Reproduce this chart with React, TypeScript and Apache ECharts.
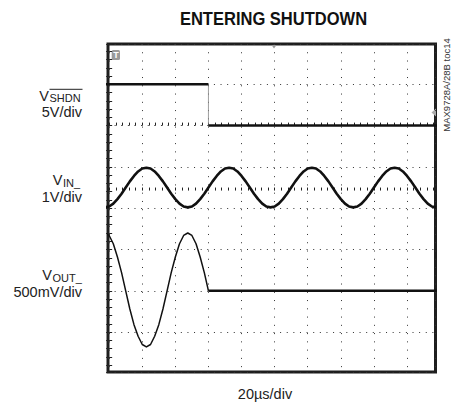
import React, { useEffect, useRef } from 'react';
import * as echarts from 'echarts';

// ---- texts ----
const TITLE = 'ENTERING SHUTDOWN';
const TIME_LABEL = '20µs/div';
const CHART_ID = 'MAX9728A/28B toc14';

// ---- sampled traces (time in µs from the first graticule line) ----
const SAMPLE_START_US = -2.5;
const SAMPLE_STEP_US = 2.5;

// V_IN_ (1V/div), samples every 2.5µs from -2.5µs
const VIN_VOLTS = [
  -0.48, -0.46, -0.39, -0.28, -0.15, 0.0, 0.15, 0.28, 0.39, 0.46,
  0.48, 0.46, 0.39, 0.28, 0.15, 0.0, -0.15, -0.28, -0.39, -0.46,
  -0.48, -0.46, -0.39, -0.28, -0.15, 0.0, 0.15, 0.28, 0.39, 0.46,
  0.48, 0.46, 0.39, 0.28, 0.15, 0.0, -0.15, -0.28, -0.39, -0.46,
  -0.48, -0.46, -0.39, -0.28, -0.15, 0.0, 0.15, 0.28, 0.39, 0.46,
  0.48, 0.46, 0.39, 0.28, 0.15, 0.0, -0.15, -0.28, -0.39, -0.46,
  -0.48, -0.46, -0.39, -0.28, -0.15, 0.0, 0.15, 0.28, 0.39, 0.46,
  0.48, 0.46, 0.39, 0.28, 0.15, 0.0, -0.15, -0.28, -0.39, -0.46,
  -0.48,
];

// V_OUT_ (500mV/div), samples every 2.5µs from -2.5µs until shutdown
const VOUT_VOLTS = [
  0.7, 0.67, 0.57, 0.41, 0.22, 0.0, -0.22, -0.41, -0.55, -0.65,
  -0.68, -0.65, -0.55, -0.41, -0.22, 0.0, 0.22, 0.41, 0.57, 0.67,
  0.7, 0.67, 0.57, 0.41, 0.22, 0.0,
];
const VOUT_SETTLED_TIME_US = [60, 200];
const VOUT_SETTLED_VOLTS = [0, 0];

// V_SHDN (5V/div)
const SHDN_TIME_US = [-2.5, 60, 60, 200];
const SHDN_VOLTS = [5, 5, 0, 0];

// ---- scope geometry ----
const X_MIN_US = -0.7;
const X_MAX_US = 197.2;
const DIV_MIN = 0.034;
const DIV_MAX = 7.976;
const CH_SHDN = { zeroDiv: 6, perDiv: 5 };
const CH_VIN = { zeroDiv: 4.5, perDiv: 1 };
const CH_VOUT = { zeroDiv: 2, perDiv: 0.5 };

const FONT = '"Liberation Sans", Arial, sans-serif';
const TRACE = '#111111';
const DOT = '#333333';

function chAxis(ch: { zeroDiv: number; perDiv: number }) {
  return {
    type: 'value' as const,
    show: false,
    min: (DIV_MIN - ch.zeroDiv) * ch.perDiv,
    max: (DIV_MAX - ch.zeroDiv) * ch.perDiv,
  };
}

function tickAxisCommon() {
  return {
    axisLine: { show: false },
    axisLabel: { show: false },
    axisTick: { show: true, inside: true, length: 3, lineStyle: { color: '#222', width: 1 } },
    minorTick: { show: true, splitNumber: 5, length: 3, lineStyle: { color: '#222', width: 1 } },
  };
}

export default function App() {
  const ref = useRef<HTMLDivElement>(null);
  useEffect(() => {
    if (!ref.current) return;
    const chart = echarts.init(ref.current, undefined, { renderer: 'svg' });

    const vinData = VIN_VOLTS.map((v, i) => [SAMPLE_START_US + i * SAMPLE_STEP_US, v]);
    const voutData = VOUT_VOLTS.map((v, i) => [SAMPLE_START_US + i * SAMPLE_STEP_US, v]);
    const voutFlat = VOUT_SETTLED_TIME_US.map((t, i) => [t, VOUT_SETTLED_VOLTS[i]]);
    const shdnPts = SHDN_TIME_US.map((t, i) => [t, SHDN_VOLTS[i]]);

    const lineSeries = (data: number[][], yAxisIndex: number, width: number, color = TRACE) => ({
      type: 'line' as const,
      data,
      xAxisIndex: 0,
      yAxisIndex,
      showSymbol: false,
      symbol: 'none',
      silent: true,
      clip: true,
      lineStyle: { color, width, join: 'round' as const, cap: 'butt' as const },
    });

    chart.setOption({
      animation: false,
      backgroundColor: '#ffffff',
      grid: {
        left: 108,
        top: 44,
        width: 327.5,
        height: 328,
        show: true,
        borderColor: '#1e1e1e',
        borderWidth: 3,
        backgroundColor: 'transparent',
      },
      xAxis: [
        {
          type: 'value',
          min: X_MIN_US,
          max: X_MAX_US,
          splitNumber: 10,
          position: 'bottom',
          ...tickAxisCommon(),
          splitLine: { show: true, lineStyle: { color: DOT, width: 1, type: [1, 7.26] } },
        },
        {
          type: 'value',
          min: X_MIN_US,
          max: X_MAX_US,
          splitNumber: 10,
          position: 'top',
          ...tickAxisCommon(),
          splitLine: { show: false },
        },
      ],
      yAxis: [
        {
          type: 'value',
          min: DIV_MIN,
          max: DIV_MAX,
          splitNumber: 8,
          position: 'left',
          ...tickAxisCommon(),
          splitLine: { show: true, lineStyle: { color: DOT, width: 1, type: [1, 5.62] } },
        },
        {
          type: 'value',
          min: DIV_MIN,
          max: DIV_MAX,
          splitNumber: 8,
          position: 'right',
          ...tickAxisCommon(),
          splitLine: { show: false },
        },
        chAxis(CH_SHDN),
        chAxis(CH_VIN),
        chAxis(CH_VOUT),
      ],
      series: [
        lineSeries(shdnPts.slice(1, 3), 2, 0.8, '#888'),
        lineSeries(shdnPts.slice(0, 2), 2, 2.5),
        lineSeries(shdnPts.slice(2, 4), 2, 2.5),
        lineSeries(vinData, 3, 2.6),
        lineSeries(voutData, 4, 1.5),
        lineSeries(voutFlat, 4, 2.5),
      ],
      graphic: [
        // title
        {
          type: 'text',
          x: 273.5,
          y: 18.5,
          scaleX: 0.87,
          style: {
            text: TITLE,
            align: 'center',
            verticalAlign: 'middle',
            fontFamily: FONT,
            fontWeight: 'bold',
            fontSize: 19,
            fill: '#111',
          },
        },
        // time scale
        {
          type: 'text',
          x: 265,
          y: 394,
          style: { text: TIME_LABEL, align: 'center', verticalAlign: 'middle', fontFamily: FONT, fontSize: 14.5, fill: '#222' },
        },
        // chart id rotated
        {
          type: 'text',
          x: 446.5,
          y: 85,
          rotation: Math.PI / 2,
          style: { text: CHART_ID, align: 'center', verticalAlign: 'middle', fontFamily: FONT, fontSize: 9.5, fill: '#333' },
        },
        // V_SHDN label
        { type: 'text', x: 49, y: 95.7, style: { text: 'V', align: 'right', verticalAlign: 'middle', fontFamily: FONT, fontSize: 14.5, fill: '#222' } },
        { type: 'text', x: 49.5, y: 98, style: { text: 'SHDN', align: 'left', verticalAlign: 'middle', fontFamily: FONT, fontSize: 11, fill: '#222' } },
        { type: 'line', shape: { x1: 49.5, y1: 89.3, x2: 82.5, y2: 89.3 }, style: { stroke: '#222', lineWidth: 1 } },
        { type: 'text', x: 82, y: 111.8, style: { text: '5V/div', align: 'right', verticalAlign: 'middle', fontFamily: FONT, fontSize: 14.5, fill: '#222' } },
        // V_IN label
        { type: 'text', x: 62.5, y: 180, style: { text: 'V', align: 'right', verticalAlign: 'middle', fontFamily: FONT, fontSize: 14.5, fill: '#222' } },
        { type: 'text', x: 63, y: 182.5, style: { text: 'IN_', align: 'left', verticalAlign: 'middle', fontFamily: FONT, fontSize: 11, fill: '#222' } },
        { type: 'text', x: 82, y: 196.5, style: { text: '1V/div', align: 'right', verticalAlign: 'middle', fontFamily: FONT, fontSize: 14.5, fill: '#222' } },
        // V_OUT label
        { type: 'text', x: 52, y: 275.3, style: { text: 'V', align: 'right', verticalAlign: 'middle', fontFamily: FONT, fontSize: 14.5, fill: '#222' } },
        { type: 'text', x: 52.5, y: 277.5, style: { text: 'OUT_', align: 'left', verticalAlign: 'middle', fontFamily: FONT, fontSize: 11, fill: '#222' } },
        { type: 'text', x: 82, y: 291.8, style: { text: '500mV/div', align: 'right', verticalAlign: 'middle', fontFamily: FONT, fontSize: 14.5, fill: '#222' } },
        // trigger marker "T"
        { type: 'rect', shape: { x: 111.7, y: 50, width: 8.3, height: 10, r: 1.5 }, style: { fill: '#9a9a9a' } },
        { type: 'text', x: 115.9, y: 55.3, style: { text: 'T', align: 'center', verticalAlign: 'middle', fontFamily: FONT, fontWeight: 'bold', fontSize: 9, fill: '#ffffff' } },
        // trigger position marker (top)
        { type: 'polygon', shape: { points: [[271.5, 45], [276.5, 45], [274, 48.5]] }, style: { fill: '#9a9a9a' } },
        // trigger level marker (right)
        { type: 'polygon', shape: { points: [[431.5, 112.5], [436, 108.5], [436, 116.5]] }, style: { fill: '#aaaaaa' } },
      ],
    });

    return () => chart.dispose();
  }, []);

  return <div ref={ref} style={{ position: 'fixed', left: 0, top: 0, width: 451, height: 407 }} />;
}
